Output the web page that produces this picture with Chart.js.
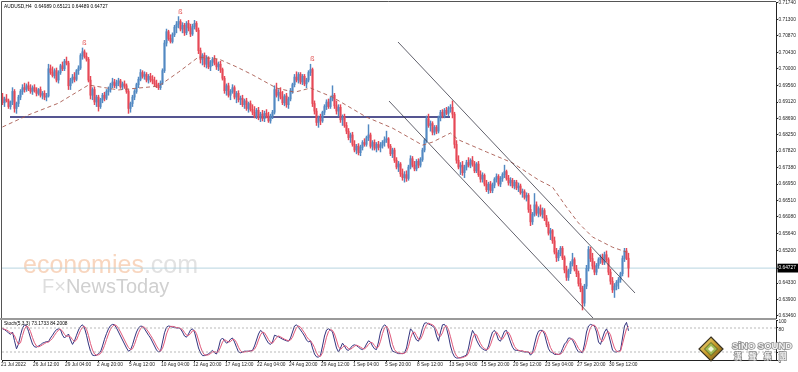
<!DOCTYPE html>
<html><head><meta charset="utf-8">
<script src="https://cdn.jsdelivr.net/npm/chart.js@4.4.0/dist/chart.umd.min.js"></script>
<style>
html,body{margin:0;padding:0;background:#fff;}
#wrap{position:relative;width:798px;height:372px;overflow:hidden;background:#fff}
#c1{position:absolute;left:0;top:0;}
#c2{position:absolute;left:0;top:318px;}
</style></head><body>
<div id="wrap"><canvas id="c1" width="798" height="320"></canvas><canvas id="c2" width="798" height="54"></canvas></div>
<script>
// ---------------- DATA ----------------
const symbolTitle = 'AUDUSD,H4  0.64989 0.65121 0.64489 0.64727';
const stochTitle = 'Stoch(5,3,3) 73.1733 84.2008';

const openP = [
.6925,.6910,.6920,.6915,.6900,.6912,.6940,.6895,.6908,.6925,.6940,.6950,.6945,.6955,.6948,.6940,
.6950,.6942,.6935,.6945,.6930,.6935,.6925,.6928,.7000,.6990,.6982,.6995,.6970,.6990,.7008,.7000,
.7020,.7015,.6955,.6970,.6978,.6972,.6995,.7002,.7035,.7045,.7032,.7025,.6970,.6930,.6945,.6912,
.6925,.6900,.6918,.6930,.6922,.6940,.6945,.6958,.6965,.6955,.6962,.6968,.6952,.6960,.6955,.6940,
.6895,.6908,.6925,.6940,.6958,.6972,.6990,.6980,.6985,.6970,.6980,.6972,.6968,.6960,.6955,.6950,
.6962,.6995,.7068,.7098,.7080,.7072,.7090,.7110,.7118,.7125,.7105,.7115,.7095,.7120,.7108,.7092,
.7112,.7120,.7102,.7048,.7025,.7035,.7012,.7028,.7005,.7018,.7025,.7015,.7005,.7012,.6998,.6975,
.6942,.6955,.6930,.6940,.6950,.6925,.6935,.6918,.6922,.6905,.6915,.6895,.6908,.6892,.6885,.6875,
.6890,.6870,.6880,.6868,.6882,.6875,.6862,.6875,.6885,.6945,.6930,.6938,.6925,.6910,.6928,.6905,
.6920,.6942,.6958,.6978,.6970,.6985,.6965,.6980,.6960,.6970,.6990,.6998,.6908,.6888,.6858,.6870,
.6862,.6885,.6900,.6912,.6900,.6920,.6930,.6902,.6888,.6898,.6865,.6872,.6850,.6835,.6818,.6825,
.6800,.6785,.6795,.6778,.6792,.6805,.6800,.6818,.6825,.6795,.6805,.6790,.6800,.6792,.6798,.6805,
.6812,.6815,.6795,.6775,.6785,.6758,.6740,.6748,.6722,.6712,.6720,.6710,.6740,.6762,.6745,.6735,
.6755,.6745,.6760,.6785,.6810,.6868,.6850,.6855,.6832,.6845,.6835,.6870,.6885,.6875,.6890,.6882,
.6895,.6898,.6880,.6800,.6758,.6740,.6745,.6725,.6740,.6752,.6745,.6758,.6748,.6730,.6748,.6720,
.6708,.6718,.6695,.6680,.6695,.6678,.6692,.6708,.6715,.6695,.6710,.6720,.6728,.6710,.6698,.6705,
.6690,.6700,.6685,.6690,.6672,.6675,.6660,.6665,.6628,.6595,.6615,.6640,.6618,.6630,.6615,.6625,
.6605,.6588,.6565,.6572,.6545,.6515,.6500,.6512,.6525,.6500,.6468,.6448,.6465,.6485,.6495,.6470,
.6458,.6432,.6418,.6380,.6425,.6472,.6522,.6498,.6478,.6462,.6480,.6495,.6502,.6488,.6508,.6495,
.6462,.6438,.6415,.6425,.6435,.6442,.6458,.6498,.6518,.64989];
const highP = [
.6935,.6925,.6932,.6920,.6915,.6950,.6945,.6912,.6930,.6945,.6958,.6962,.6960,.6965,.6958,.6955,
.6958,.6950,.6948,.6952,.6940,.6942,.6935,.7012,.7010,.7005,.7000,.7002,.6995,.7012,.7018,.7025,
.7031,.7020,.6975,.6985,.6990,.6998,.7008,.7040,.7055,.7050,.7042,.7030,.6980,.6950,.6952,.6930,
.6930,.6922,.6935,.6938,.6945,.6952,.6962,.6975,.6972,.6970,.6975,.6972,.6965,.6968,.6960,.6945,
.6912,.6930,.6945,.6962,.6978,.6998,.6995,.6992,.6990,.6985,.6988,.6982,.6978,.6970,.6962,.6968,
.7000,.7075,.7105,.7102,.7090,.7095,.7115,.7125,.7138,.7130,.7122,.7120,.7125,.7128,.7118,.7118,
.7128,.7125,.7108,.7055,.7040,.7042,.7035,.7032,.7022,.7030,.7035,.7025,.7018,.7020,.7002,.6980,
.6960,.6962,.6945,.6958,.6955,.6940,.6942,.6928,.6930,.6920,.6922,.6912,.6915,.6905,.6900,.6895,
.6898,.6885,.6890,.6888,.6892,.6885,.6880,.6890,.6955,.6962,.6945,.6950,.6940,.6932,.6935,.6925,
.6948,.6962,.6985,.6992,.6990,.6990,.6985,.6985,.6975,.6995,.7012,.7002,.6915,.6895,.6875,.6880,
.6888,.6905,.6918,.6920,.6925,.6955,.6935,.6915,.6905,.6905,.6878,.6880,.6858,.6842,.6830,.6832,
.6810,.6800,.6802,.6798,.6810,.6815,.6822,.6852,.6830,.6810,.6812,.6805,.6808,.6805,.6810,.6820,
.6835,.6818,.6800,.6790,.6790,.6765,.6755,.6752,.6735,.6728,.6730,.6745,.6770,.6768,.6755,.6760,
.6762,.6765,.6790,.6815,.6875,.6880,.6862,.6860,.6850,.6850,.6875,.6890,.6892,.6895,.6898,.6900,
.6905,.6915,.6885,.6810,.6770,.6752,.6755,.6745,.6758,.6765,.6762,.6768,.6755,.6752,.6755,.6730,
.6725,.6722,.6705,.6700,.6702,.6698,.6712,.6722,.6720,.6715,.6725,.6745,.6732,.6718,.6712,.6710,
.6705,.6705,.6698,.6695,.6682,.6680,.6672,.6670,.6640,.6620,.6670,.6648,.6635,.6640,.6632,.6630,
.6612,.6595,.6578,.6575,.6555,.6525,.6520,.6530,.6530,.6505,.6478,.6470,.6490,.6512,.6500,.6480,
.6465,.6445,.6425,.6430,.6480,.6530,.6528,.6512,.6490,.6485,.6500,.6508,.6510,.6515,.6518,.6500,
.6470,.6448,.6432,.6440,.6448,.6462,.6505,.6525,.6525,.65121];
const lowP = [
.6905,.6900,.6912,.6895,.6893,.6905,.6885,.6882,.6900,.6918,.6932,.6938,.6940,.6942,.6935,.6932,
.6938,.6928,.6930,.6925,.6920,.6918,.6915,.6925,.6985,.6978,.6975,.6965,.6962,.6985,.6995,.6995,
.7010,.6945,.6945,.6962,.6965,.6968,.6985,.6998,.7025,.7028,.7020,.6965,.6920,.6918,.6905,.6900,
.6888,.6895,.6910,.6915,.6918,.6930,.6938,.6950,.6950,.6948,.6955,.6948,.6945,.6948,.6935,.6882,
.6885,.6900,.6918,.6935,.6950,.6968,.6975,.6972,.6965,.6962,.6965,.6960,.6955,.6950,.6945,.6945,
.6958,.6990,.7060,.7075,.7068,.7068,.7085,.7095,.7108,.7100,.7095,.7088,.7090,.7100,.7085,.7088,
.7105,.7098,.7040,.7015,.7010,.7005,.7002,.7000,.6995,.7008,.7010,.6998,.6995,.6990,.6970,.6935,
.6930,.6925,.6918,.6935,.6920,.6910,.6912,.6905,.6900,.6895,.6890,.6885,.6888,.6878,.6870,.6868,
.6865,.6860,.6862,.6860,.6870,.6858,.6856,.6868,.6880,.6925,.6915,.6920,.6905,.6902,.6898,.6895,
.6915,.6935,.6952,.6965,.6962,.6960,.6958,.6955,.6950,.6965,.6982,.6900,.6880,.6850,.6845,.6852,
.6858,.6878,.6892,.6895,.6895,.6915,.6895,.6880,.6875,.6858,.6850,.6845,.6828,.6812,.6805,.6795,
.6780,.6775,.6772,.6770,.6785,.6795,.6795,.6810,.6790,.6785,.6785,.6780,.6785,.6780,.6790,.6795,
.6805,.6790,.6770,.6765,.6752,.6735,.6728,.6715,.6705,.6700,.6702,.6705,.6735,.6740,.6730,.6730,
.6738,.6740,.6755,.6780,.6805,.6845,.6835,.6825,.6825,.6828,.6830,.6862,.6870,.6870,.6878,.6875,
.6885,.6870,.6790,.6750,.6735,.6720,.6718,.6712,.6732,.6740,.6738,.6742,.6725,.6725,.6715,.6700,
.6700,.6690,.6675,.6670,.6672,.6672,.6685,.6700,.6690,.6688,.6702,.6712,.6705,.6692,.6690,.6685,
.6682,.6680,.6675,.6668,.6660,.6655,.6650,.6620,.6585,.6588,.6610,.6612,.6608,.6610,.6605,.6598,
.6582,.6560,.6548,.6538,.6510,.6490,.6492,.6505,.6495,.6460,.6440,.6440,.6458,.6478,.6465,.6450,
.6425,.6410,.6362,.6372,.6418,.6465,.6490,.6470,.6455,.6455,.6472,.6485,.6482,.6482,.6490,.6455,
.6430,.6408,.6395,.6415,.6418,.6435,.6452,.6490,.6495,.64489];
const closeP = [
.6910,.6920,.6915,.6900,.6912,.6940,.6895,.6908,.6925,.6940,.6950,.6945,.6955,.6948,.6940,.6950,
.6942,.6935,.6945,.6930,.6935,.6925,.6928,.7000,.6990,.6982,.6995,.6970,.6990,.7008,.7000,.7020,
.7015,.6955,.6970,.6978,.6972,.6995,.7002,.7035,.7045,.7032,.7025,.6970,.6930,.6945,.6912,.6925,
.6900,.6918,.6930,.6922,.6940,.6945,.6958,.6965,.6955,.6962,.6968,.6952,.6960,.6955,.6940,.6895,
.6908,.6925,.6940,.6958,.6972,.6990,.6980,.6985,.6970,.6980,.6972,.6968,.6960,.6955,.6950,.6962,
.6995,.7068,.7098,.7080,.7072,.7090,.7110,.7118,.7125,.7105,.7115,.7095,.7120,.7108,.7092,.7112,
.7120,.7102,.7048,.7025,.7035,.7012,.7028,.7005,.7018,.7025,.7015,.7005,.7012,.6998,.6975,.6942,
.6955,.6930,.6940,.6950,.6925,.6935,.6918,.6922,.6905,.6915,.6895,.6908,.6892,.6885,.6875,.6890,
.6870,.6880,.6868,.6882,.6875,.6862,.6875,.6885,.6945,.6930,.6938,.6925,.6910,.6928,.6905,.6920,
.6942,.6958,.6978,.6970,.6985,.6965,.6980,.6960,.6970,.6990,.6998,.6908,.6888,.6858,.6870,.6862,
.6885,.6900,.6912,.6900,.6920,.6930,.6902,.6888,.6898,.6865,.6872,.6850,.6835,.6818,.6825,.6800,
.6785,.6795,.6778,.6792,.6805,.6800,.6818,.6825,.6795,.6805,.6790,.6800,.6792,.6798,.6805,.6812,
.6815,.6795,.6775,.6785,.6758,.6740,.6748,.6722,.6712,.6720,.6710,.6740,.6762,.6745,.6735,.6755,
.6745,.6760,.6785,.6810,.6868,.6850,.6855,.6832,.6845,.6835,.6870,.6885,.6875,.6890,.6882,.6895,
.6898,.6880,.6800,.6758,.6740,.6745,.6725,.6740,.6752,.6745,.6758,.6748,.6730,.6748,.6720,.6708,
.6718,.6695,.6680,.6695,.6678,.6692,.6708,.6715,.6695,.6710,.6720,.6728,.6710,.6698,.6705,.6690,
.6700,.6685,.6690,.6672,.6675,.6660,.6665,.6628,.6595,.6615,.6640,.6618,.6630,.6615,.6625,.6605,
.6588,.6565,.6572,.6545,.6515,.6500,.6512,.6525,.6500,.6468,.6448,.6465,.6485,.6495,.6470,.6458,
.6432,.6418,.6380,.6425,.6472,.6522,.6498,.6478,.6462,.6480,.6495,.6502,.6488,.6508,.6495,.6462,
.6438,.6415,.6425,.6435,.6442,.6458,.6498,.6518,.64989,.64727];

// dashed moving average, read at sample bars
const maIdx = [0,13,28,43,58,68,78,88,98,108,117,125,137,146,154,165,182,195,210,215,224,228,242,255,268,275,282,288,295,305,312];
const maVal = [0.6846,0.6878,0.6909,0.6957,0.6944,0.6949,0.6954,0.6991,0.7031,0.7026,0.7005,0.6984,0.6949,0.6938,0.6949,0.6925,0.6872,0.6843,0.6798,0.6806,0.6830,0.6812,0.6780,0.6751,0.6706,0.6687,0.6634,0.6592,0.6555,0.6528,0.6515];

// drawn objects
const supportIdx = [3.75, 223.75];
const supportVal = [0.68724, 0.68724];
const upperChIdx = [197.75, 316.25];
const upperChVal = [0.70708, 0.64068];
const lowerChIdx = [193.25, 295.25];
const lowerChVal = [0.69147, 0.63407];
const fractalIdx = [40, 88, 154];
const lastPrice = 0.64727;

// stochastic (5,3,3)
const stochK = [
78,76,72,68,64,70,48,28,40,62, 80,88,86,72,55,40,33,32,35,38, 42,44,46,46,55,62,70,76,78,76,
62,55,60,65,50,39,48,62,75,84, 88,80,62,40,22,12,11,12,16,20, 35,52,66,78,86,89,88,80,70,60,
50,40,30,22,25,38,55,70,80,85, 84,78,70,62,55,45,35,25,20,22, 45,68,82,85,84,82,82,80,80,78,
70,60,57,65,75,78,70,50,30,18, 11,11,13,15,20,24,18,15,30,50, 55,48,42,45,52,55,45,32,20,18,
20,22,22,22,23,24,35,50,65,74, 70,60,50,42,39,45,62,60,58,55, 52,50,48,47,55,70,85,88,82,75,
68,60,50,45,48,30,15,8,7,12, 35,60,75,78,75,70,50,30,20,30, 42,35,26,24,30,36,38,36,32,28,
26,30,40,48,45,35,28,26,45,70, 82,88,84,60,35,22,20,18,16,16, 16,18,30,55,78,72,60,50,47,60,
80,92,93,90,88,85,80,60,47,70, 88,89,80,60,35,18,8,5,5,6, 8,10,12,30,55,74,65,50,40,32,
28,25,24,35,55,70,74,65,50,47, 60,72,74,60,45,32,25,24,24,22, 22,20,20,20,12,18,40,60,72,74,
74,65,45,28,20,18,14,14,14,16, 28,40,45,55,55,50,40,28,20,20, 18,40,70,85,89,87,85,70,45,39,
55,70,78,65,45,25,20,20,22,24, 55,85,94,73.17];
const stochD = [
79,77,75,72,68,67,61,49,39,43, 61,77,85,82,71,56,43,35,33,35, 38,41,44,45,49,54,62,69,75,77,
72,64,59,60,58,51,46,50,62,74, 82,84,77,61,41,25,15,12,13,16, 24,36,51,65,77,84,88,86,79,70,
60,50,40,31,26,28,39,54,68,78, 83,82,77,70,62,54,45,35,27,22, 29,45,65,78,84,84,83,81,81,79,
76,69,62,61,66,73,74,66,50,33, 20,13,12,13,16,20,21,19,21,32, 45,51,48,45,46,51,51,44,32,23,
19,20,21,22,22,23,27,36,50,63, 70,68,60,51,44,42,49,56,60,58, 55,52,50,48,50,57,70,81,85,82,
75,68,59,52,48,41,31,18,10,9, 18,36,57,71,76,74,65,50,33,27, 31,36,34,28,27,30,35,37,35,32,
29,28,32,39,44,43,36,30,33,47, 66,80,85,77,60,39,26,20,18,17, 16,17,21,34,54,68,70,61,52,52,
62,77,88,92,90,88,84,75,62,59, 68,82,86,76,58,38,20,10,6,5, 6,8,10,17,32,53,65,63,52,41,
33,28,26,28,38,53,66,70,63,54, 52,60,69,69,60,46,34,27,24,23, 23,21,21,20,17,17,23,39,57,69,
73,71,61,46,31,22,17,15,14,15, 19,28,38,47,52,53,48,39,29,23, 19,26,43,65,81,87,87,81,67,51,
46,55,68,71,63,45,30,22,21,22, 40,60,78,84.2];

// axis labels
const priceTicks = [0.71740,0.71300,0.70870,0.70430,0.70000,0.69560,0.69120,0.68690,0.68250,0.67820,0.67380,0.66950,0.66510,0.66080,0.65640,0.65200,0.64727,0.64330,0.63900,0.63460];
const timeLabels = ['21 Jul 2022','26 Jul 12:00','29 Jul 04:00','2 Aug 20:00','5 Aug 12:00','10 Aug 04:00','12 Aug 20:00','17 Aug 12:00','22 Aug 04:00','24 Aug 20:00','29 Aug 12:00','1 Sep 04:00','5 Sep 20:00','8 Sep 12:00','13 Sep 04:00','15 Sep 20:00','20 Sep 12:00','23 Sep 04:00','27 Sep 20:00','30 Sep 12:00'];
const timeTickIdx = [0,16,32,48,64,80,96,112,128,144,160,176,192,208,224,240,256,272,288,304];
const stochTicks = [0,20,80,100];

// ---------------- STYLE ----------------
const UP = '#5289c2', DOWN = '#e64856';
const FONT = 'Liberation Sans, Arial, sans-serif';
const XMIN = -0.25, XMAX = 386.75;
const YMIN = 0.63407, YMAX = 0.71766;

const wickData = closeP.map((c, i) => ({x: i, y: [lowP[i], highP[i]]}));
const bodyData = closeP.map((c, i) => ({x: i, y: [Math.min(openP[i], c), Math.max(openP[i], c)]}));
const candleColors = closeP.map((c, i) => c >= openP[i] ? UP : DOWN);
const pts = (xs, ys) => xs.map((x, i) => ({x: x, y: ys[i]}));

const mainDecor = {
  id: 'mainDecor',
  beforeDatasetsDraw(chart) {
    const ctx = chart.ctx;
    ctx.save();
    ctx.textBaseline = 'alphabetic';
    ctx.font = '25px ' + FONT;
    ctx.fillStyle = '#f8d6bf';
    ctx.fillText('economies', 23, 273);
    const w = ctx.measureText('economies').width;
    ctx.fillStyle = '#e2e2e2';
    ctx.fillText('.com', 23 + w, 273);
    ctx.font = '20px ' + FONT;
    ctx.fillStyle = '#dedede';
    ctx.fillText('F\u00d7', 42, 293);
    const w2 = ctx.measureText('F\u00d7').width;
    ctx.fillStyle = '#d0d0d0';
    ctx.fillText('NewsToday', 42 + w2, 293);
    ctx.restore();
  },
  afterDraw(chart) {
    const ctx = chart.ctx, a = chart.chartArea;
    const xs = chart.scales.x, ys = chart.scales.y;
    ctx.save();
    ctx.strokeStyle = '#555';
    ctx.lineWidth = 1;
    ctx.beginPath();
    ctx.moveTo(a.left - 0.5, a.bottom);
    ctx.lineTo(a.left - 0.5, a.top - 0.5);
    ctx.lineTo(a.right, a.top - 0.5);
    ctx.stroke();
    ctx.fillStyle = '#9a9a9a';
    ctx.fillRect(0, 318, a.right, 2);
    ctx.fillStyle = '#000';
    ctx.font = '4.8px ' + FONT;
    ctx.textBaseline = 'middle';
    ctx.fillText(symbolTitle, 4, 6.5);
    ctx.fillStyle = '#e04848';
    ctx.font = '7px ' + FONT;
    ctx.textAlign = 'center';
    fractalIdx.forEach(i => {
      ctx.fillText('\u00df', xs.getPixelForValue(i) + 2, ys.getPixelForValue(highP[i]) - 5);
    });
    ctx.restore();
  }
};

new Chart(document.getElementById('c1'), {
  type: 'bar',
  data: {
    datasets: [
      {type: 'line', data: pts([XMIN, XMAX], [lastPrice, lastPrice]), borderColor: '#b7d4e0', borderWidth: 1, pointRadius: 0, order: 9},
      {type: 'line', data: pts(supportIdx, supportVal), borderColor: '#1c1c6c', borderWidth: 1.3, pointRadius: 0, order: 8},
      {type: 'bar', data: wickData, backgroundColor: candleColors, barThickness: 0.8, grouped: false, borderWidth: 0, order: 3},
      {type: 'bar', data: bodyData, backgroundColor: candleColors, barThickness: 1.3, grouped: false, borderWidth: 0, order: 2},
      {type: 'line', data: pts(maIdx, maVal), borderColor: '#a85a50', borderWidth: 0.9, borderDash: [4, 3], pointRadius: 0, order: 1},
      {type: 'line', data: pts(upperChIdx, upperChVal), borderColor: '#3a3a48', borderWidth: 0.8, pointRadius: 0, order: 0},
      {type: 'line', data: pts(lowerChIdx, lowerChVal), borderColor: '#3a3a48', borderWidth: 0.8, pointRadius: 0, order: 0}
    ]
  },
  options: {
    responsive: false, animation: false, events: [],
    layout: {padding: {left: 2, top: 2, bottom: 2, right: 0}},
    plugins: {legend: {display: false}, tooltip: {enabled: false}},
    scales: {
      x: {type: 'linear', min: XMIN, max: XMAX, offset: false, display: false},
      y: {
        type: 'linear', position: 'right', min: YMIN, max: YMAX,
        afterBuildTicks: s => { s.ticks = priceTicks.map(v => ({value: v})); },
        afterFit: s => { s.width = 22; s.paddingTop = 0; s.paddingBottom = 0; },
        grid: {drawOnChartArea: false, drawTicks: true, tickLength: 2, color: '#222'},
        border: {display: true, color: '#222', width: 1},
        ticks: {
          padding: 0.5, autoSkip: false,
          font: {family: FONT, size: 4.8, lineHeight: 1},
          color: c => (c.tick && Math.abs(c.tick.value - lastPrice) < 1e-6) ? '#fff' : '#222',
          showLabelBackdrop: c => !!(c.tick && Math.abs(c.tick.value - lastPrice) < 1e-6),
          backdropColor: '#000', backdropPadding: {left: 1, right: 4, top: 2, bottom: 2},
          callback: v => v.toFixed(5)
        }
      }
    }
  },
  plugins: [mainDecor]
});

const stochDecor = {
  id: 'stochDecor',
  afterDraw(chart) {
    const ctx = chart.ctx, a = chart.chartArea;
    ctx.save();
    ctx.strokeStyle = '#555';
    ctx.lineWidth = 1;
    ctx.beginPath();
    ctx.moveTo(a.left - 0.5, a.bottom);
    ctx.lineTo(a.left - 0.5, a.top);
    ctx.stroke();
    ctx.fillStyle = '#000';
    ctx.font = '4.8px ' + FONT;
    ctx.textBaseline = 'middle';
    ctx.fillText(stochTitle, 4, 5.5);
    // logo
    const cx = 711, cy = 31, r = 12;
    ctx.beginPath();
    ctx.moveTo(cx, cy - r); ctx.lineTo(cx + r, cy); ctx.lineTo(cx, cy + r); ctx.lineTo(cx - r, cy); ctx.closePath();
    const g = ctx.createLinearGradient(cx - r, cy - r, cx + r, cy + r);
    g.addColorStop(0, '#f3e08a'); g.addColorStop(0.5, '#c79a2a'); g.addColorStop(1, '#6a5018');
    ctx.fillStyle = g; ctx.fill();
    ctx.strokeStyle = '#3a3322'; ctx.lineWidth = 1.2; ctx.stroke();
    const r2 = 6.5;
    ctx.beginPath();
    ctx.moveTo(cx, cy - r2); ctx.lineTo(cx + r2, cy); ctx.lineTo(cx, cy + r2); ctx.lineTo(cx - r2, cy); ctx.closePath();
    ctx.fillStyle = '#9fba52'; ctx.fill();
    ctx.strokeStyle = '#4a5a20'; ctx.lineWidth = 0.8; ctx.stroke();
    const r3 = 3;
    ctx.beginPath();
    ctx.moveTo(cx, cy - r3); ctx.lineTo(cx + r3, cy); ctx.lineTo(cx, cy + r3); ctx.lineTo(cx - r3, cy); ctx.closePath();
    ctx.fillStyle = '#eef5d8'; ctx.fill();
    ctx.font = 'bold 9.5px ' + FONT;
    ctx.textBaseline = 'alphabetic';
    ctx.lineWidth = 1.6; ctx.strokeStyle = '#8c8c8c';
    ctx.strokeText('SiNO SOUND', 732, 30.5);
    ctx.fillStyle = '#f2f2f2';
    ctx.fillText('SiNO SOUND', 732, 30.5);
    ctx.font = 'bold 7.5px "Noto Sans CJK TC", "Noto Sans CJK SC", sans-serif';
    const cj = ['\u6f22', '\u8072', '\u96c6', '\u5718'];
    cj.forEach((ch, k) => {
      ctx.strokeText(ch, 734 + k * 15, 40.5);
      ctx.fillText(ch, 734 + k * 15, 40.5);
    });
    ctx.restore();
  }
};

new Chart(document.getElementById('c2'), {
  type: 'line',
  data: {
    datasets: [
      {data: pts([XMIN, XMAX], [80, 80]), borderColor: '#a8a8a8', borderWidth: 0.8, borderDash: [2, 2], pointRadius: 0},
      {data: pts([XMIN, XMAX], [20, 20]), borderColor: '#a8a8a8', borderWidth: 0.8, borderDash: [2, 2], pointRadius: 0},
      {data: stochD.map((v, i) => ({x: i, y: v})), borderColor: '#e0587a', borderWidth: 1, pointRadius: 0},
      {data: stochK.map((v, i) => ({x: i, y: v})), borderColor: '#33337e', borderWidth: 1, pointRadius: 0}
    ]
  },
  options: {
    responsive: false, animation: false, events: [],
    layout: {padding: {left: 2, top: 2, bottom: 0, right: 0}},
    plugins: {legend: {display: false}, tooltip: {enabled: false}},
    scales: {
      x: {
        type: 'linear', min: XMIN, max: XMAX, offset: false,
        afterBuildTicks: s => { s.ticks = timeTickIdx.map(v => ({value: v})); },
        afterFit: s => { s.height = 12; s.paddingLeft = 0; s.paddingRight = 0; },
        grid: {drawOnChartArea: false, drawTicks: true, tickLength: 2, color: '#222'},
        border: {display: true, color: '#222', width: 1},
        ticks: {
          autoSkip: false, maxRotation: 0, minRotation: 0, align: 'start', padding: 0.5, labelOffset: -1.5,
          font: {family: FONT, size: 4.8, lineHeight: 1}, color: '#222',
          callback: (v, i) => timeLabels[i]
        }
      },
      y: {
        type: 'linear', position: 'right', min: 0, max: 100,
        afterBuildTicks: s => { s.ticks = stochTicks.map(v => ({value: v})); },
        afterFit: s => { s.width = 22; s.paddingTop = 0; s.paddingBottom = 0; },
        grid: {drawOnChartArea: false, drawTicks: true, tickLength: 2, color: '#222'},
        border: {display: true, color: '#222', width: 1},
        ticks: {autoSkip: false, padding: 0.5, labelOffset: 2, font: {family: FONT, size: 4.8, lineHeight: 1}, color: '#222'}
      }
    }
  },
  plugins: [stochDecor]
});
</script>
</body></html>
